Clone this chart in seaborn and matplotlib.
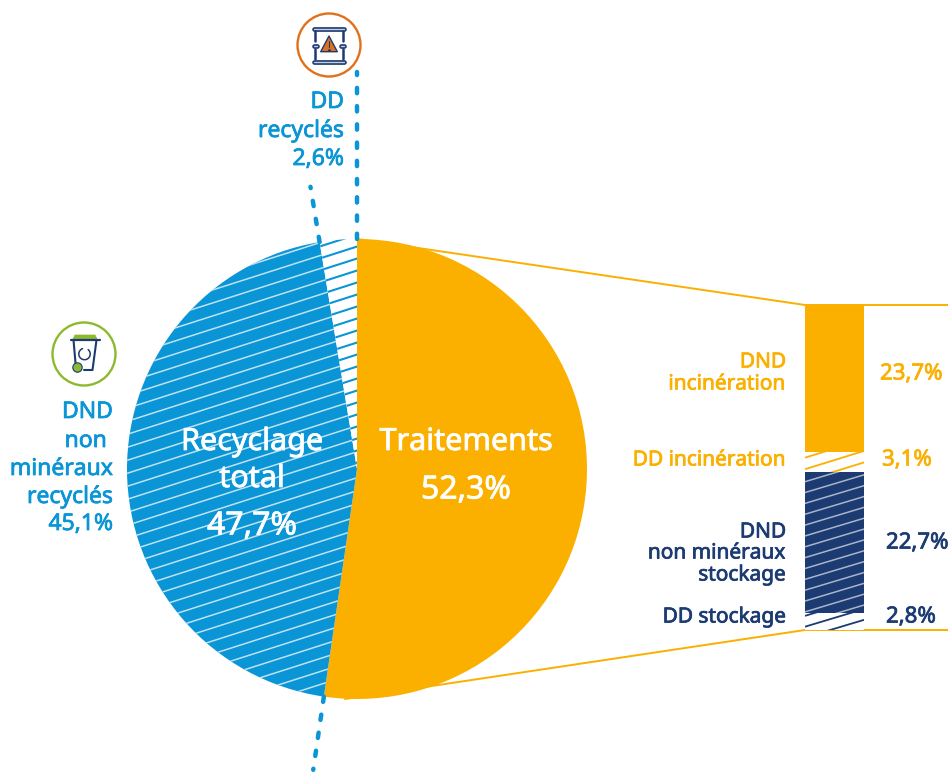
import math
import numpy as np
import pandas as pd
import matplotlib
matplotlib.use("Agg")
import matplotlib.pyplot as plt
import matplotlib.patheffects as pe
import seaborn as sns
from matplotlib.collections import LineCollection
from matplotlib.patches import Circle, Polygon
from matplotlib.transforms import Affine2D

# Waste treatment shares (%)
pie_names = ["Traitements", "DND non minéraux recyclés", "DD recyclés"]
pie_values = [52.3, 45.1, 2.6]
bar_names = ["DND incinération", "DD incinération", "DND non minéraux stockage", "DD stockage"]
bar_values = [23.7, 3.1, 22.7, 2.8]

ORANGE = "#FBB000"
BLUE = "#0A95D6"
NAVY = "#1C3B72"
RUST = "#E2701A"
GREEN = "#8DB92E"

sns.set_theme(style="white")
plt.rcParams["font.family"] = ["Noto Sans", "DejaVu Sans"]

W, H = 948, 772
fig = plt.figure(figsize=(W / 100, H / 100), dpi=100, facecolor="white")
ax = fig.add_axes([0, 0, 1, 1])
ax.set_axis_off()

# Pixel frame measured from the top-left corner of the canvas
pix = Affine2D().scale(1, -1).translate(0, H)
CX, CY, R = 357, 469, 230


def hatch(host, patch, color, lw, spacing, slope, y0, x0=0, zorder=3):
    ys = np.arange(y0 - 60 * spacing, y0 + 60 * spacing, spacing)
    segs = [[(x0, y), (x0 + 700, y - slope * 700)] for y in ys]
    lc = LineCollection(segs, colors=color, linewidths=lw, transform=pix, zorder=zorder)
    host.add_collection(lc, autolim=False)
    lc.set_clip_path(patch)


def label(x, y, s, color, ha="right", size=16.5):
    # A hairline stroke gives the regular face a medium weight
    ax.text(x, y + 2, s, color=color, ha=ha, va="center", fontsize=size, transform=pix, zorder=8,
            path_effects=[pe.withStroke(linewidth=0.55, foreground=color)])


def rim_point(share, radius):
    a = math.radians(share * 3.6)
    return CX + radius * math.sin(a), CY - radius * math.cos(a)


# Connector lines from the pie to the stacked column
ax.plot([357, 805, W], [239, 305, 305], color=ORANGE, lw=1.4, transform=pix, zorder=1)
ax.plot([345, 805, W], [699, 630, 630], color=ORANGE, lw=1.4, transform=pix, zorder=1)

wedges, _ = ax.pie(pie_values, colors=[ORANGE, BLUE, "white"], startangle=90, counterclock=False,
                   center=(CX, H - CY), radius=R, frame=True,
                   wedgeprops={"linewidth": 0, "zorder": 2})
ax.set_xlim(0, W)
ax.set_ylim(0, H)
ax.set_aspect("auto")
ax.set_axis_off()

hatch(ax, wedges[1], "#BFE2F3", 1.1, 13, 0.32, 475)
hatch(ax, wedges[2], BLUE, 1.5, 12, 0.32, 360.8)

# Dotted dividers extend each wedge boundary beyond the rim
dotted = dict(color=BLUE, lw=3.2, dashes=(1.2, 2.9), dash_capstyle="round", transform=pix, zorder=4)
ax.plot([CX, CX], [239, 72], **dotted)
x1, y1 = rim_point(pie_values[0], R)
x2, y2 = rim_point(pie_values[0], 304)
ax.plot([x1, x2], [y1, y2], **dotted)
x1, y1 = rim_point(pie_values[0] + pie_values[1], R)
x2, y2 = rim_point(pie_values[0] + pie_values[1], 286)
ax.plot([x1, x2], [y1, y2], **dotted)

# Stacked column detailing the treatment share
bax = fig.add_axes([805 / W, (H - 630) / H, 59 / W, 325 / H])
bottoms = np.cumsum([0] + bar_values[:-1])
bar_df = pd.DataFrame({"poste": bar_names, "part": bar_values, "base": bottoms, "groupe": ["x"] * 4})
bar_colors = [ORANGE, "white", NAVY, "white"]
for i in range(4):
    row = bar_df.iloc[[i]]
    sns.barplot(data=row, x="groupe", y="part", bottom=row["base"].iloc[0], color=bar_colors[i],
                saturation=1, width=1, linewidth=0, errorbar=None, ax=bax)
bax.set_xlim(-0.5, 0.5)
bax.set_ylim(sum(bar_values), 0)
bax.set_axis_off()
rects = bax.patches
hatch(bax, rects[1], ORANGE, 1.3, 11.5, 0.31, 457.7, 805)
hatch(bax, rects[2], "#A9B4CB", 1.1, 10.85, 0.3, 481.7, 805)
hatch(bax, rects[3], NAVY, 1.3, 10.85, 0.3, 626.7, 805)

# Labels inside the pie
label(252, 440, "Recyclage", "white", "center", 22)
label(252, 477, "total", "white", "center", 22)
label(252, 524, "47,7%", "white", "center", 23)
label(466, 440, "Traitements", "white", "center", 22)
label(466, 488, "52,3%", "white", "center", 23)

# Labels beside the pie
for y, s in zip([410, 439, 467, 495, 522], ["DND", "non ", "minéraux", "recyclés", "45,1%"]):
    label(113, y, s, BLUE)
for y, s in zip([100, 129, 157], ["DD", "recyclés", "2,6%"]):
    label(344, y, s, BLUE)

# Labels beside the column
label(786, 360, "DND", ORANGE, size=15)
label(786, 382, "incinération", ORANGE, size=15)
label(786, 458, "DD incinération", ORANGE, size=15)
label(786, 530, "DND", NAVY, size=15)
label(786, 551, "non minéraux", NAVY, size=15)
label(786, 573, "stockage", NAVY, size=15)
label(786, 615, "DD stockage", NAVY, size=15)
label(880, 372, "23,7%", ORANGE, "left", 16)
label(882, 458, "3,1%", ORANGE, "left", 16)
label(886, 541, "22,7%", NAVY, "left", 16)
label(886, 615, "2,8%", NAVY, "left", 16)

# Hazardous waste icon: drum with warning triangle
ax.add_patch(Circle((329, 45), 31.5, fc="white", ec=RUST, lw=1.7, transform=pix, zorder=5))
for x0, x1_, y in [(313.5, 344, 28.5), (313.5, 344, 61.5), (313.5, 317, 45.5), (341, 344, 45.5)]:
    ax.plot([x0, x1_], [y, y], color=NAVY, lw=3.4, solid_capstyle="round", transform=pix, zorder=6)
    ax.plot([x0, x1_], [y, y], color="#C5CFE0", lw=1, solid_capstyle="round", transform=pix, zorder=6)
for x in (314.5, 343):
    ax.plot([x, x], [31, 41], color=NAVY, lw=1.8, transform=pix, zorder=6)
    ax.plot([x, x], [49, 59], color=NAVY, lw=1.8, transform=pix, zorder=6)
ax.add_patch(Polygon([(329, 36), (320.7, 51.7), (337.3, 51.7)], closed=True, fc=RUST, ec=NAVY, lw=1,
                     joinstyle="round", transform=pix, zorder=7))
ax.plot([329, 329], [41, 47], color=NAVY, lw=0.8, transform=pix, zorder=8)
ax.plot([329], [49.5], "o", ms=1, color=NAVY, transform=pix, zorder=8)

# Recycling bin icon
ax.add_patch(Circle((84, 354), 31.5, fc="white", ec=GREEN, lw=1.7, transform=pix, zorder=5))
ax.add_patch(Polygon([(73, 339), (75, 335), (95, 335), (97, 339)], closed=True, fc=GREEN, ec=GREEN,
                     lw=0.5, transform=pix, zorder=6))
ax.plot([71, 100], [339.5, 339.5], color=NAVY, lw=1.6, solid_capstyle="round", transform=pix, zorder=7)
ax.plot([73.5, 75.5], [340, 363], color=NAVY, lw=1.5, transform=pix, zorder=6)
ax.plot([96.5, 92.5, 84], [340, 370, 370], color=NAVY, lw=1.5, transform=pix, zorder=6)
ax.add_patch(Circle((77.5, 367.5), 4.7, fc=GREEN, ec=NAVY, lw=0.8, transform=pix, zorder=7))
theta = np.radians(np.linspace(-50, 250, 40))
ax.plot(84.5 + 5.7 * np.cos(theta), 354 + 5.7 * np.sin(theta), color=NAVY, lw=1.1, transform=pix, zorder=7)

fig.savefig("out.png", dpi=100, facecolor="white")
